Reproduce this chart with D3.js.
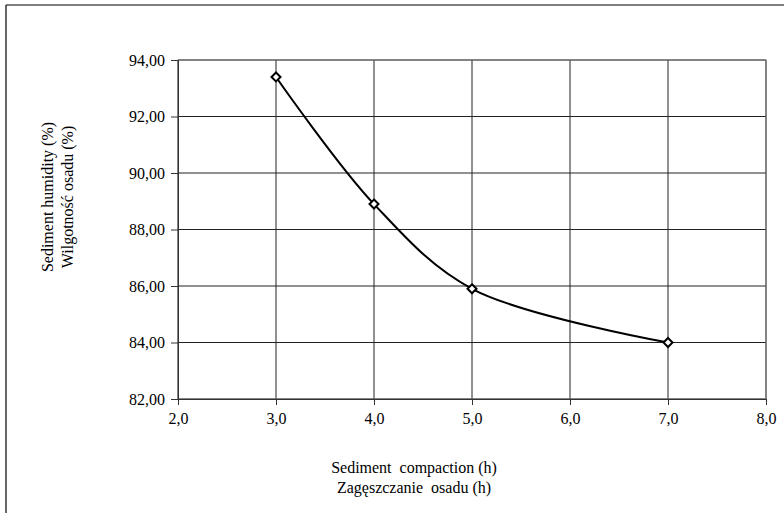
<!DOCTYPE html>
<html>
<head>
<meta charset="utf-8">
<script src="https://cdn.jsdelivr.net/npm/d3@7"></script>
<style>
  body { margin: 0; background: #fff; }
</style>
</head>
<body>
<div id="chart"></div>
<script>
// data
var hours = [3, 4, 5, 7];
var humidity = [93.4, 88.9, 85.9, 84.0];
var xTicks = [2, 3, 4, 5, 6, 7, 8];
var yTicks = [82, 84, 86, 88, 90, 92, 94];
var xTitle = ["Sediment  compaction (h)", "Zagęszczanie  osadu (h)"];
var yTitle = ["Sediment humidity (%)", "Wilgotność osadu (%)"];

var W = 784, H = 513;
var mLeft = 178, mRight = 766, mTop = 60, mBottom = 399;
var FONT = "Liberation Serif";

var svg = d3.select("#chart").append("svg")
  .attr("width", W).attr("height", H);

// outer frame (only top and left visible in the picture)
svg.append("line").attr("x1", 6).attr("x2", W).attr("y1", 5).attr("y2", 5)
  .attr("stroke", "#000").attr("stroke-width", 1.2);
svg.append("line").attr("x1", 6).attr("x2", 6).attr("y1", 5).attr("y2", H)
  .attr("stroke", "#000").attr("stroke-width", 1.2);

var x = d3.scaleLinear().domain([2, 8]).range([mLeft, mRight]);
var y = d3.scaleLinear().domain([82, 94]).range([mBottom, mTop]);

var fmt = function(d, n) { return d.toFixed(n).replace(".", ","); };

// grid
svg.append("g").selectAll("line").data(yTicks).enter().append("line")
  .attr("x1", mLeft).attr("x2", mRight)
  .attr("y1", function(d) { return y(d); }).attr("y2", function(d) { return y(d); })
  .attr("stroke", "#222").attr("stroke-width", 1);
svg.append("g").selectAll("line").data(xTicks).enter().append("line")
  .attr("x1", function(d) { return x(d); }).attr("x2", function(d) { return x(d); })
  .attr("y1", mTop).attr("y2", mBottom)
  .attr("stroke", "#222").attr("stroke-width", 1);

// plot border in gray
svg.append("rect").attr("x", mLeft).attr("y", mTop)
  .attr("width", mRight - mLeft).attr("height", mBottom - mTop)
  .attr("fill", "none").attr("stroke", "#777").attr("stroke-width", 1);

// axes
var yAxis = svg.append("g").attr("transform", "translate(" + mLeft + ",0)")
  .call(d3.axisLeft(y).tickValues(yTicks).tickSize(7).tickPadding(6)
    .tickFormat(function(d) { return fmt(d, 2); }));
var xAxis = svg.append("g").attr("transform", "translate(0," + mBottom + ")")
  .call(d3.axisBottom(x).tickValues(xTicks).tickSize(6).tickPadding(8)
    .tickFormat(function(d) { return fmt(d, 1); }));
[yAxis, xAxis].forEach(function(a) {
  a.select(".domain").attr("stroke", "#333");
  a.selectAll(".tick line").attr("stroke", "#333");
  a.selectAll("text").attr("fill", "#000")
    .attr("font-family", FONT).attr("font-size", 16);
});

// axis titles
svg.append("g").selectAll("text").data(xTitle).enter().append("text")
  .attr("x", 414).attr("y", function(d, i) { return 473 + i * 20; })
  .attr("text-anchor", "middle")
  .attr("font-family", FONT).attr("font-size", 16)
  .style("white-space", "pre")
  .text(function(d) { return d; });
svg.append("g").selectAll("text").data(yTitle).enter().append("text")
  .attr("transform", function(d, i) { return "translate(" + (53 + i * 20) + ",197) rotate(-90)"; })
  .attr("text-anchor", "middle")
  .attr("font-family", FONT).attr("font-size", 16)
  .text(function(d) { return d; });

// smoothed line
var pts = hours.map(function(h, i) { return [h, humidity[i]]; });
svg.append("path").datum(pts)
  .attr("fill", "none").attr("stroke", "#000").attr("stroke-width", 2)
  .attr("d", d3.line().curve(d3.curveCatmullRom.alpha(0.5))
    .x(function(d) { return x(d[0]); }).y(function(d) { return y(d[1]); }));

// diamond markers
svg.append("g").selectAll("path").data(pts).enter().append("path")
  .attr("transform", function(d) { return "translate(" + x(d[0]) + "," + y(d[1]) + ")"; })
  .attr("d", "M0,-4.5L4.5,0L0,4.5L-4.5,0Z")
  .attr("fill", "#fff").attr("stroke", "#000").attr("stroke-width", 2);
</script>
</body>
</html>
